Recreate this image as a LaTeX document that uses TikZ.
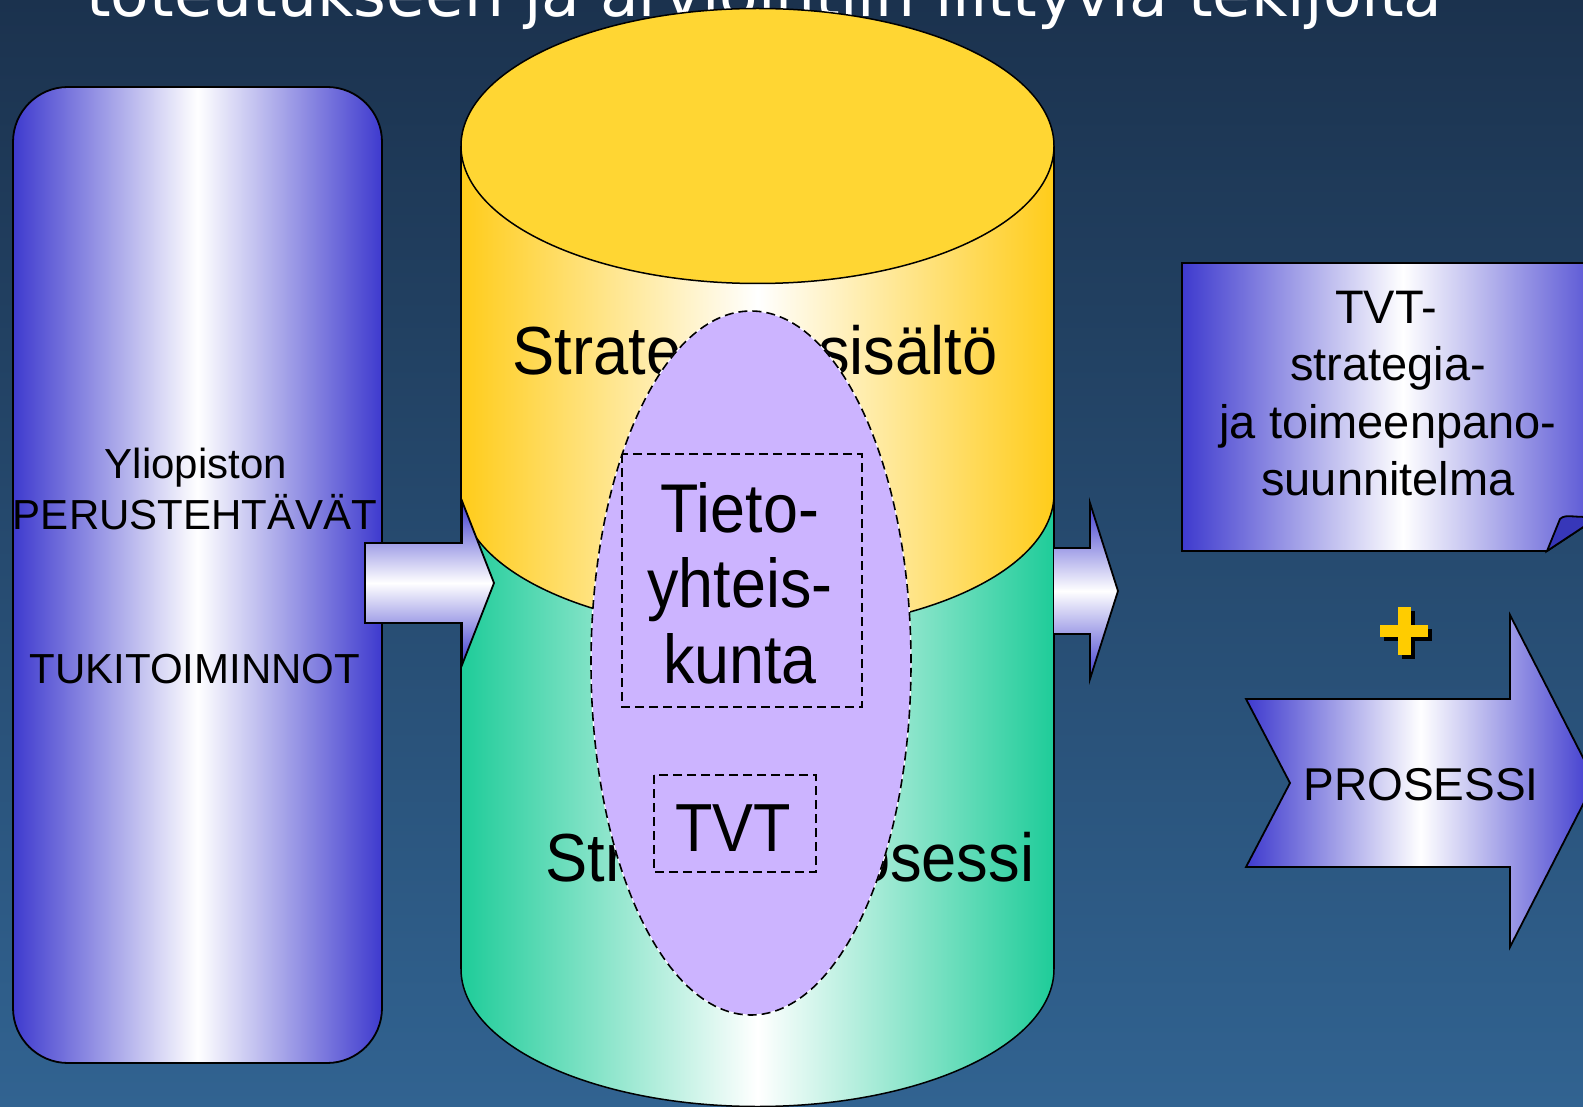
\documentclass[tikz,border=0pt]{standalone}
\usepackage{fontspec}
\setmainfont{Liberation Sans}
\newfontfamily\titlefont{DejaVu Sans}
\definecolor{bgtop}{RGB}{27,50,78}
\definecolor{bgbot}{RGB}{49,99,145}
\definecolor{bl}{RGB}{62,58,206}
\definecolor{yel}{RGB}{255,214,51}
\definecolor{yelE}{RGB}{255,204,26}
\definecolor{grnE}{RGB}{30,204,153}
\definecolor{lil}{RGB}{204,180,255}
\definecolor{plusc}{RGB}{255,204,0}
\definecolor{foldc}{RGB}{55,55,185}
\tikzset{
  outl/.style={draw=black, line width=1.8pt},
  blueh/.style={left color=bl, right color=bl, middle color=white},
  bluev/.style={top color=bl, bottom color=bl, middle color=white},
  dsh/.style={draw=black, line width=1.6pt, dash pattern=on 9pt off 5pt},
  lbl/.style={inner sep=0pt, anchor=base, text=black},
}
\begin{document}
\begin{tikzpicture}[x=1pt,y=-1pt]
\clip (0,0) rectangle (1583,1107);
\shade[top color=bgtop,bottom color=bgbot] (0,0) rectangle (1583,1107);

% title (cut at top)
\node[inner sep=0pt, anchor=base west, text=white, font=\titlefont\fontsize{63}{70}\selectfont] (title) at (86,17) {toteutukseen ja arviointiin liittyviä tekijöitä};

% left rounded box
\draw[outl, blueh, rounded corners=55pt] (13,87) rectangle (382,1063);
\node[lbl, font=\fontsize{42}{48}\selectfont] (ylio) at (196,478) {Yliopiston};
\node[lbl, font=\fontsize{42}{48}\selectfont] (perus) at (195,529) {PERUSTEHTÄVÄT};
\node[lbl, font=\fontsize{42}{48}\selectfont] (tuki) at (195,683) {TUKITOIMINNOT};

% cylinder
\shade[left color=grnE,right color=grnE,middle color=white] (461,494) rectangle (1054,969);
\shade[left color=grnE,right color=grnE,middle color=white] (757.5,969) ellipse[x radius=296.5pt,y radius=137.5pt];
\shade[left color=yelE,right color=yelE,middle color=white] (461,146) rectangle (1054,494);
\shade[left color=yelE,right color=yelE,middle color=white] (757.5,494) ellipse[x radius=296.5pt,y radius=137.5pt];
\draw[line width=1.5pt] (461,146) -- (461,969);
\draw[line width=1.5pt] (1054,146) -- (1054,969);
\begin{scope}
\clip (400,494) rectangle (1100,700);
\draw[line width=1.5pt] (757.5,494) ellipse[x radius=296.5pt,y radius=137.5pt];
\end{scope}
\begin{scope}
\clip (400,969) rectangle (1100,1200);
\draw[line width=1.5pt] (757.5,969) ellipse[x radius=296.5pt,y radius=137.5pt];
\end{scope}
\draw[line width=1.5pt, fill=yel] (757.5,146) ellipse[x radius=296.5pt,y radius=137.5pt];

\node[lbl, font=\fontsize{68}{76}\selectfont] (sisalto) at (755,374) {\scalebox{0.93}[1]{Strategian sisältö}};
\node[lbl, font=\fontsize{68}{76}\selectfont] (prosessi) at (790,881) {\scalebox{0.93}[1]{Strategiaprosessi}};

% arrow into cylinder
\draw[outl, bluev] (365,543) -- (462,543) -- (462,501) -- (494,583) -- (462,665) -- (462,623) -- (365,623) -- cycle;

% arrow out of cylinder
\shade[bluev] (1054,548) -- (1090,548) -- (1090,503) -- (1118,591) -- (1090,679) -- (1090,634) -- (1054,634) -- cycle;
\draw[outl] (1054,548) -- (1090,548) -- (1090,503) -- (1118,591) -- (1090,679) -- (1090,634) -- (1054,634);

% community ellipse
\draw[white, line width=1pt, fill=lil] (751,663) ellipse[x radius=160pt,y radius=352pt];
\draw[dsh] (751,663) ellipse[x radius=160pt,y radius=352pt];
\draw[dsh] (622,454) rectangle (862,707);
\draw[dsh] (654,775) rectangle (816,872);
\node[lbl, font=\fontsize{69}{76}\selectfont] (tieto) at (740,532) {\scalebox{0.91}[1]{Tieto-}};
\node[lbl, font=\fontsize{69}{76}\selectfont] (yhteis) at (740,607) {\scalebox{0.91}[1]{yhteis-}};
\node[lbl, font=\fontsize{69}{76}\selectfont] (kunta) at (740,683) {\scalebox{0.91}[1]{kunta}};
\node[lbl, font=\fontsize{68}{76}\selectfont] (tvt) at (733,851) {\scalebox{0.9}[1]{TVT}};

% document box
\draw[outl, blueh] (1182,263) -- (1624,263) -- (1624,500) -- (1547,551) -- (1182,551) -- cycle;
\draw[outl, fill=foldc] (1547,551) -- (1560,519) .. controls (1566,513) and (1575,519) .. (1600,516) -- cycle;
\node[lbl, font=\fontsize{47}{54}\selectfont] (d1) at (1386,324) {TVT-};
\node[lbl, font=\fontsize{47}{54}\selectfont] (d2) at (1388,381) {strategia-};
\node[lbl, font=\fontsize{47}{54}\selectfont] (d3) at (1388,438) {ja toimeenpano-};
\node[lbl, font=\fontsize{47}{54}\selectfont] (d4) at (1388,495) {suunnitelma};

% plus sign
\fill[black] (1402,611) rectangle (1415,659);
\fill[black] (1384,629) rectangle (1432,641);
\fill[plusc] (1398,607) rectangle (1411,655);
\fill[plusc] (1380,625) rectangle (1428,637);

% process arrow
\draw[outl, blueh] (1246,699) -- (1510,699) -- (1510,615) -- (1595,781) -- (1510,947) -- (1510,867) -- (1246,867) -- (1290,783) -- cycle;
\node[lbl, font=\fontsize{46}{52}\selectfont] (proc) at (1421,800) {PROSESSI};
\end{tikzpicture}
\end{document}
